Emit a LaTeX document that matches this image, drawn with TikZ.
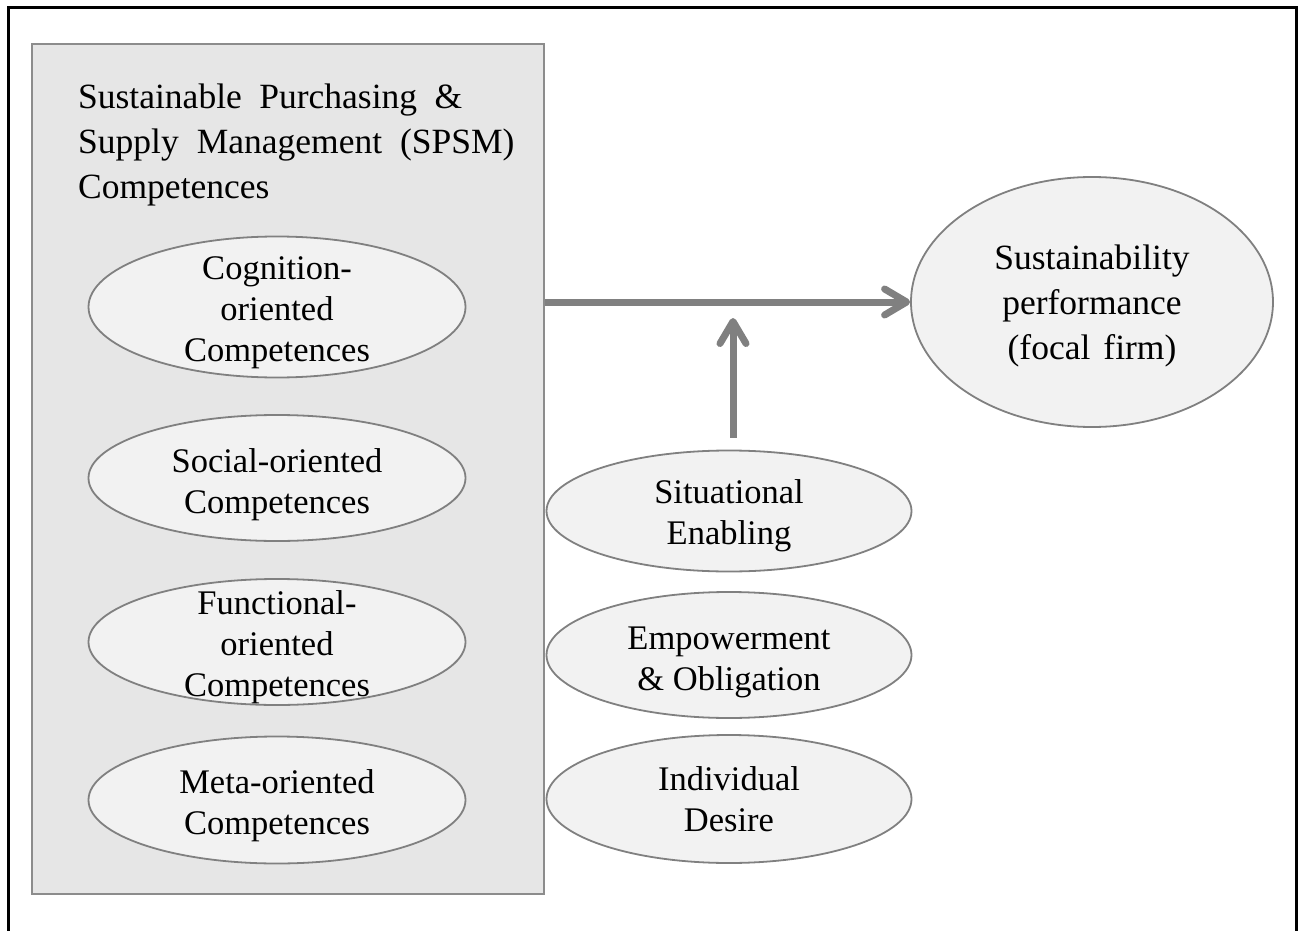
\documentclass[tikz,border=0pt]{standalone}
\usepackage{fontspec}
\setmainfont{Liberation Serif}
\usetikzlibrary{shapes.geometric,arrows.meta,calc}
\definecolor{boxfill}{HTML}{E6E6E6}
\definecolor{boxline}{HTML}{8C8C8C}
\definecolor{ellfill}{HTML}{F2F2F2}
\definecolor{ellline}{HTML}{808080}
\definecolor{arrowgray}{HTML}{808080}
\begin{document}
\begin{tikzpicture}[x=1pt,y=-1pt,
  ell/.style={ellipse, draw=ellline, fill=ellfill, line width=1.8pt, inner sep=0pt},
  leftell/.style={ell, minimum width=377pt},
  rightell/.style={ell, minimum width=365pt},
  txt/.style={align=center, inner sep=0pt, font=\fontsize{34.5}{41}\selectfont},
  conn/.style={draw=arrowgray, line width=7pt, -{Straight Barb[round, length=22pt, width=26pt]}}]
\useasboundingbox (0,0) rectangle (1304,931);
% outer frame (open at the bottom)
\draw[line width=3pt] (8.5,931) -- (8.5,8) -- (1296,8) -- (1296,931);
% SPSM box
\node[draw=boxline, fill=boxfill, line width=2.2pt, minimum width=512pt, minimum height=850pt, inner sep=0pt] (box) at (288,469) {};
\node[anchor=north west, align=left, inner sep=0pt, font=\fontsize{35.5}{45}\selectfont] (title) at (78,84)
  {\spaceskip=17.5pt Sustainable Purchasing \&\\ \spaceskip=18pt Supply Management (SPSM)\\ Competences};
% left ellipses
\node[leftell, minimum height=141pt] (cog) at (277,307) {};
\node[txt] (cogt) at (277,313) {Cognition-\\oriented\\Competences};
\node[leftell, minimum height=126pt] (soc) at (277,478) {};
\node[txt] (soct) at (277,485) {Social-oriented\\Competences};
\node[leftell, minimum height=126pt] (fun) at (277,642) {};
\node[txt] (funt) at (277,647) {Functional-\\oriented\\Competences};
\node[leftell, minimum height=127pt] (meta) at (277,800) {};
\node[txt] (metat) at (277,806) {Meta-oriented\\Competences};
% right ellipses
\node[rightell, minimum height=121pt] (sit) at (729,511) {};
\node[txt] (sitt) at (729,516) {Situational\\Enabling};
\node[rightell, minimum height=126pt] (emp) at (729,655) {};
\node[txt] (empt) at (729,662) {Empowerment\\\& Obligation};
\node[rightell, minimum height=128pt] (ind) at (729,799) {};
\node[txt] (indt) at (729,799) {Individual\\Desire};
% outcome
\node[ell, minimum width=362pt, minimum height=250pt] (perf) at (1092,302) {};
\node[txt, font=\fontsize{35.5}{45}\selectfont] (perft) at (1092,306) {Sustainability\\performance\\{\spaceskip=13pt (focal firm)}};
% connectors
\draw[conn] (box.east |- perf.west) -- (perf.west);
\coordinate (vstart) at ($(sit.north)+(4,-12)$);
\coordinate (vtip) at (733,318);
\draw[conn] (vstart) -- (vtip);
\end{tikzpicture}
\end{document}
